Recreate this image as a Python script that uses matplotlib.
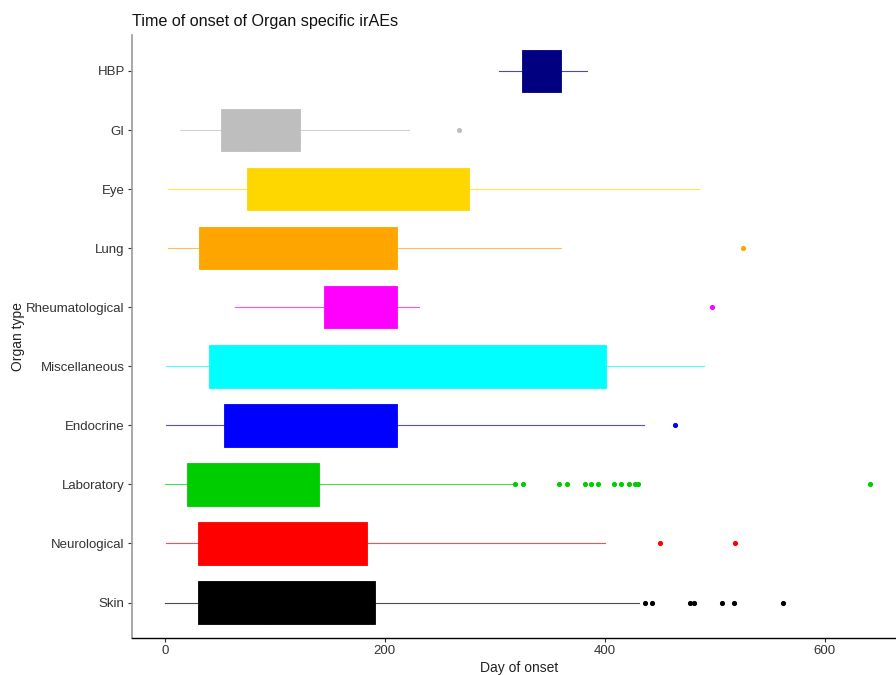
import numpy as np
import matplotlib
matplotlib.use('Agg')
from matplotlib import pyplot as plt

plt.rcParams['font.family'] = ['Liberation Sans', 'DejaVu Sans']

# categories bottom -> top
organs = ['Skin', 'Neurological', 'Laboratory', 'Endocrine', 'Miscellaneous',
          'Rheumatological', 'Lung', 'Eye', 'GI', 'HBP']
colors = ['#000000', '#FF0000', '#00CD00', '#0000FF', '#00FFFF',
          '#FF00FF', '#FFA500', '#FFD700', '#BEBEBE', '#000080']

# box statistics (days)
whis_lo = [0, 1, 0.5, 1, 1, 64, 3, 3, 14, 304]
q1 = [30.5, 30, 20.5, 54, 40.5, 145, 31, 75, 51, 325]
med = [90, 85, 65, 110, 160, 175, 100, 160, 80, 340]
q3 = [191, 184, 140, 211, 401, 211, 211, 277, 123, 360]
whis_hi = [431, 400, 316, 436, 490, 231, 360, 486, 222, 384]
outliers = [
    [437, 443, 478, 481, 507, 518, 562],
    [450, 519],
    [318.5, 325.5, 358.6, 365.9, 382, 387.3, 393.9, 408.6, 415.3, 422.3,
     427.7, 430.6, 641],
    [464],
    [],
    [498],
    [526],
    [],
    [268],
    [],
]

fig = plt.figure(figsize=(8.96, 6.75), dpi=100)
ax = fig.add_axes([131.7 / 896, 37 / 675, 775.3 / 896, 602.5 / 675])

for i, organ in enumerate(organs):
    stats = [{'whislo': whis_lo[i], 'q1': q1[i], 'med': med[i], 'q3': q3[i],
              'whishi': whis_hi[i], 'fliers': outliers[i], 'label': organ}]
    c = colors[i]
    ax.bxp(stats, positions=[i + 1], widths=0.72, vert=False, showcaps=False,
           patch_artist=True,
           boxprops=dict(facecolor=c, edgecolor=c, linewidth=0.6),
           medianprops=dict(color=c, linewidth=0.6),
           whiskerprops=dict(color=c, linewidth=0.8, alpha=0.7),
           flierprops=dict(marker='o', markerfacecolor=c, markeredgecolor=c,
                           markersize=2.7, linestyle='none'))

ax.set_yticks(range(1, len(organs) + 1))
ax.set_yticklabels(organs)
ax.set_ylim(0.4, len(organs) + 0.6)
ax.set_xlim(-30, 675)
ax.set_xticks([0, 200, 400, 600])

ax.spines['top'].set_visible(False)
ax.spines['right'].set_visible(False)
ax.spines['left'].set_color('#9a9a9a')
ax.spines['left'].set_linewidth(1.2)
ax.spines['bottom'].set_color('#000000')
ax.spines['bottom'].set_linewidth(1.0)
ax.tick_params(axis='both', labelsize=9.5, colors='#333333', length=3,
               width=0.8, pad=2)

ax.set_xlabel('Day of onset', fontsize=10, color='#222222', labelpad=3)
ax.set_ylabel('Organ type', fontsize=10, color='#222222', labelpad=1)
ax.set_title('Time of onset of Organ specific irAEs', loc='left',
             fontsize=11.6, color='#111111', pad=7)

fig.savefig('out.png', dpi=100)
